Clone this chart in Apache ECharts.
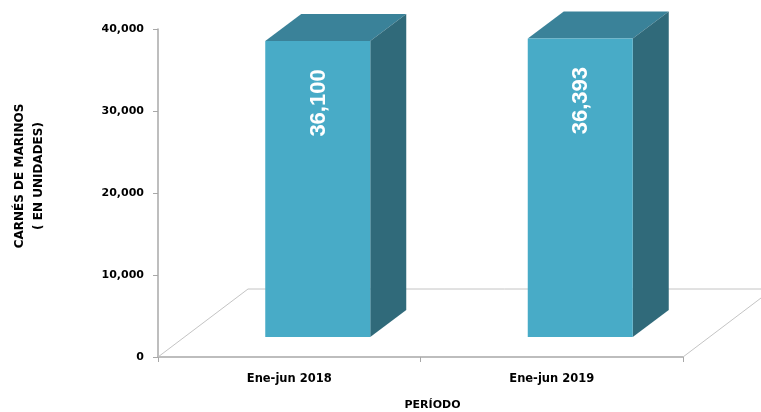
<!DOCTYPE html>
<html><head><meta charset="utf-8">
<style>html,body{margin:0;padding:0;background:#fff}#c{width:761px;height:412px}</style>
<script src="https://cdn.jsdelivr.net/npm/echarts@6/dist/echarts.min.js"></script>
</head><body><div id="c"></div>
<script>
const categories = ['Ene-jun 2018', 'Ene-jun 2019'];
const carnes = [36100, 36393];
const yTicks = [0, 10000, 20000, 30000, 40000];

const font = '"DejaVu Sans"';
const LEFT = 158, TOP = 29, W = 525, H = 328;
const DX = 36, DY = 27, LIFT = 20, SHIFT = 28.5, BW = 105;
const fmt = v => v.toString().replace(/\B(?=(\d{3})+$)/g, ',');

const chart = echarts.init(document.getElementById('c'), null, {renderer: 'canvas'});

function renderFloor(params, api) {
  const cs = params.coordSys;
  const x0 = cs.x, x1 = cs.x + cs.width, yb = cs.y + cs.height;
  const fx = 90, fy = 68, ex = 78, ey = 59;
  const style = {stroke: '#c4c4c4', lineWidth: 1, fill: null};
  return {type: 'group', silent: true, children: [
    {type: 'polyline', shape: {points: [[x0, yb], [x0 + fx, yb - fy], [761, yb - fy]]}, style},
    {type: 'line', shape: {x1: x1, y1: yb, x2: x1 + ex, y2: yb - ey}, style}
  ]};
}

function renderBar(params, api) {
  const cat = api.value(0), val = api.value(1);
  const cx = api.coord([cat, 0])[0] + SHIFT;
  const yBase = api.coord([cat, 0])[1] - LIFT;
  const yTop = api.coord([cat, val])[1] - LIFT;
  const l = cx - BW / 2, r = cx + BW / 2;
  return {type: 'group', children: [
    {type: 'polygon', shape: {points: [[l, yTop], [l + DX, yTop - DY], [r + DX, yTop - DY], [r, yTop]]}, style: {fill: '#3a8299'}},
    {type: 'polygon', shape: {points: [[r, yTop], [r + DX, yTop - DY], [r + DX, yBase - DY], [r, yBase]]}, style: {fill: '#306a7a'}},
    {type: 'rect', shape: {x: l, y: yTop, width: BW, height: yBase - yTop}, style: {fill: '#48abc7'}},
    {type: 'text', x: cx + 1, y: yTop + 62, rotation: Math.PI / 2,
      style: {text: fmt(val), fill: '#fff', font: 'bold 22px "Liberation Sans Narrow","Liberation Sans"', align: 'center', verticalAlign: 'middle',
        shadowColor: 'rgba(0,0,0,0.35)', shadowBlur: 1, shadowOffsetX: 1, shadowOffsetY: 1}}
  ]};
}

chart.setOption({
  animation: false,
  backgroundColor: '#fff',
  grid: {left: LEFT, top: TOP, width: W, height: H, containLabel: false, outerBoundsMode: 'none'},
  xAxis: {
    type: 'category', data: categories,
    name: 'PERÍODO', nameLocation: 'middle', nameGap: 43,
    nameTextStyle: {color: '#000', fontFamily: font, fontWeight: 'bold', fontSize: 11, padding: [0, 0, 0, 24]},
    axisLine: {lineStyle: {color: '#a8a8a8', width: 1.5}},
    axisTick: {show: true, alignWithLabel: false, length: 5, lineStyle: {color: '#a8a8a8'}},
    axisLabel: {color: '#000', fontFamily: font, fontWeight: 'bold', fontSize: 11.5, margin: 16},
    splitLine: {show: false}
  },
  yAxis: {
    type: 'value', min: 0, max: 40000, interval: 10000,
    name: 'CARNÉS DE MARINOS\n( EN UNIDADES)', nameLocation: 'middle', nameGap: 110, nameRotate: 90,
    nameTextStyle: {color: '#000', fontFamily: font, fontWeight: 'bold', fontSize: 12, lineHeight: 19, padding: [0, 0, 0, 34]},
    axisLine: {show: true, lineStyle: {color: '#a8a8a8', width: 1.5}},
    axisTick: {show: true, length: 5, lineStyle: {color: '#a8a8a8'}},
    axisLabel: {color: '#000', fontFamily: font, fontWeight: 'bold', fontSize: 11, margin: 14, padding: [2, 0, 0, 0],
      formatter: v => yTicks.includes(v) ? fmt(v) : ''},
    splitLine: {show: false}
  },
  series: [
    {type: 'custom', clip: false, z: 1, silent: true, renderItem: renderFloor, data: [[0, 0]]},
    {type: 'custom', clip: false, z: 2, renderItem: renderBar,
      encode: {x: 0, y: 1},
      data: categories.map((c, i) => [i, carnes[i]])}
  ]
});
</script></body></html>
